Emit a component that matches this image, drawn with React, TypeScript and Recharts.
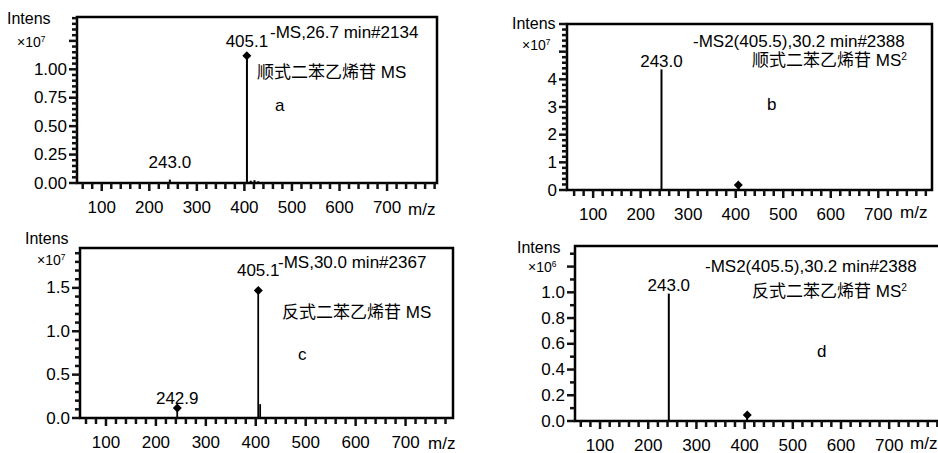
import React from 'react';
import { ComposedChart, XAxis, YAxis, Bar, Scatter, ReferenceArea, LabelList } from 'recharts';

const FONT = '"Liberation Sans", Arial, "Noto Sans CJK SC", sans-serif';

// ---------- data ----------
const xMajorTicks = [100, 200, 300, 400, 500, 600, 700];

// panel a: cis MS
const peaksA = [
  { mz: 243.0, intensity: 0.03, label: '243.0' },
  { mz: 405.1, intensity: 1.12, label: '405.1' },
  { mz: 413, intensity: 0.02 },
  { mz: 421, intensity: 0.025 },
  { mz: 429, intensity: 0.015 },
];
const markersA = [{ mz: 405.1, intensity: 1.12 }];
const yLabelsA = ['0.00', '0.25', '0.50', '0.75', '1.00'];
const yLabelValuesA = [0, 0.25, 0.5, 0.75, 1.0];

// panel b: cis MS2
const peaksB = [
  { mz: 243.0, intensity: 4.36, label: '243.0' },
  { mz: 405.5, intensity: 0.12 },
];
const markersB = [{ mz: 405.5, intensity: 0.18 }];
const yLabelsB = ['0', '1', '2', '3', '4'];
const yLabelValuesB = [0, 1, 2, 3, 4];

// panel c: trans MS
const peaksC = [
  { mz: 242.9, intensity: 0.115, label: '242.9' },
  { mz: 275, intensity: 0.012 },
  { mz: 405.1, intensity: 1.47, label: '405.1' },
  { mz: 409, intensity: 0.16 },
];
const markersC = [
  { mz: 242.9, intensity: 0.115 },
  { mz: 405.1, intensity: 1.47 },
];
const yLabelsC = ['0.0', '0.5', '1.0', '1.5'];
const yLabelValuesC = [0, 0.5, 1.0, 1.5];

// panel d: trans MS2
const peaksD = [
  { mz: 243.0, intensity: 0.99, label: '243.0' },
  { mz: 405.5, intensity: 0.03 },
];
const markersD = [{ mz: 405.5, intensity: 0.047 }];
const yLabelsD = ['0.0', '0.2', '0.4', '0.6', '0.8', '1.0'];
const yLabelValuesD = [0, 0.2, 0.4, 0.6, 0.8, 1.0];

// ---------- layout ----------
const panels = [
  {
    box: { L: 77, T: 17, R: 437, B: 183 },
    xDomain: [48, 805], yDomain: [0, 1.46], yStep: 0.05, yMajorStep: 0.25,
    peaks: peaksA, markers: markersA, yLabels: yLabelsA, yLabelValues: yLabelValuesA,
    labelDy: { '243.0': 17, '405.1': 14 },
    texts: [
      { t: 'Intens', x: 7, cy: 19, size: 16 },
      { t: '×10^7', x: 17, cy: 42, size: 14 },
      { t: '-MS,26.7 min#2134', x: 270, cy: 32, size: 17 },
      { t: '顺式二苯乙烯苷 MS', x: 257, cy: 72, size: 17 },
      { t: 'a', x: 275, cy: 105, size: 17 },
      { t: 'm/z', x: 408, cy: 209, size: 17 },
    ],
  },
  {
    box: { L: 567, T: 24, R: 932, B: 190 },
    xDomain: [45, 813], yDomain: [0, 6.0], yStep: 0.2, yMajorStep: 1,
    peaks: peaksB, markers: markersB, yLabels: yLabelsB, yLabelValues: yLabelValuesB,
    labelDy: { '243.0': 8 },
    texts: [
      { t: 'Intens', x: 512, cy: 24, size: 16 },
      { t: '×10^7', x: 522, cy: 45, size: 14 },
      { t: '-MS2(405.5),30.2 min#2388', x: 693, cy: 41, size: 17 },
      { t: '顺式二苯乙烯苷 MS^2', x: 752, cy: 60, size: 17 },
      { t: 'b', x: 767, cy: 104, size: 17 },
      { t: 'm/z', x: 900, cy: 212, size: 17 },
    ],
  },
  {
    box: { L: 80, T: 248, R: 453, B: 418 },
    xDomain: [48, 795], yDomain: [0, 1.96], yStep: 0.1, yMajorStep: 0.5,
    peaks: peaksC, markers: markersC, yLabels: yLabelsC, yLabelValues: yLabelValuesC,
    labelDy: { '242.9': 10, '405.1': 20 },
    texts: [
      { t: 'Intens', x: 25, cy: 239, size: 16 },
      { t: '×10^7', x: 37, cy: 260, size: 14 },
      { t: '-MS,30.0 min#2367', x: 278, cy: 262, size: 17 },
      { t: '反式二苯乙烯苷 MS', x: 282, cy: 312, size: 17 },
      { t: 'c', x: 298, cy: 354, size: 17 },
      { t: 'm/z', x: 428, cy: 443, size: 17 },
    ],
  },
  {
    box: { L: 575, T: 246, R: 947, B: 421 },
    xDomain: [48, 820], yDomain: [0, 1.36], yStep: 0.1, yMajorStep: 0.2,
    peaks: peaksD, markers: markersD, yLabels: yLabelsD, yLabelValues: yLabelValuesD,
    labelDy: { '243.0': 8 },
    texts: [
      { t: 'Intens', x: 517, cy: 248, size: 16 },
      { t: '×10^6', x: 528, cy: 267, size: 14 },
      { t: '-MS2(405.5),30.2 min#2388', x: 705, cy: 266, size: 17 },
      { t: '反式二苯乙烯苷 MS^2', x: 752, cy: 291, size: 17 },
      { t: 'd', x: 817, cy: 351, size: 17 },
      { t: 'm/z', x: 910, cy: 443, size: 17 },
    ],
  },
];

const PAD_L = 60, PAD_T = 10, PAD_R = 10, PAD_B = 40;
const TICK_COLOR = '#111';
const TICK_W = 2.5;

function renderRich(s: string) {
  const i = s.indexOf('^');
  if (i < 0) return s;
  return (
    <>
      {s.slice(0, i)}
      <span style={{ fontSize: '0.6em', position: 'relative', top: '-0.55em' }}>{s.slice(i + 1)}</span>
    </>
  );
}

const Diamond = (p: any) => {
  const { cx, cy } = p;
  const r = 4.5;
  return <path d={`M${cx},${cy - r}L${cx + r},${cy}L${cx},${cy + r}L${cx - r},${cy}Z`} fill="#000" />;
};

const xTick = (p: any) => {
  const { x, y, payload } = p;
  const v = payload.value;
  const major = xMajorTicks.includes(v);
  return (
    <g>
      <line x1={x} x2={x} y1={y} y2={y + (major ? 8 : 6)} stroke={TICK_COLOR} strokeWidth={TICK_W} />
      {major && (
        <text x={x} y={y + 24} textAnchor="middle" dominantBaseline="central" fontSize={17} fontFamily={FONT}>
          {v}
        </text>
      )}
    </g>
  );
};

const makeYTick = (yMajorStep: number, yLabelValues: number[], yLabels: string[]) => (p: any) => {
  const { x, y, payload } = p;
  const v = payload.value;
  const q = v / yMajorStep;
  const major = Math.abs(q - Math.round(q)) < 1e-6;
  const li = yLabelValues.findIndex((lv: number) => Math.abs(lv - v) < 1e-6);
  return (
    <g>
      <line x1={x - (major ? 8 : 5)} x2={x} y1={y} y2={y} stroke={TICK_COLOR} strokeWidth={TICK_W} />
      {li >= 0 && (
        <text x={x - 10} y={y} textAnchor="end" dominantBaseline="central" fontSize={17} fontFamily={FONT}>
          {yLabels[li]}
        </text>
      )}
    </g>
  );
};

const makeLabel = (labelDy: Record<string, number>) => (p: any) => {
  const { x, y, width, value } = p;
  if (value == null || value === '') return null;
  const dy = labelDy[value] ?? 12;
  return (
    <text x={x + width / 2} y={y - dy} textAnchor="middle" dominantBaseline="central" fontSize={17} fontFamily={FONT}>
      {value}
    </text>
  );
};

function Panel({ cfg }: { cfg: any }) {
  const { box, xDomain, yDomain, yStep, yMajorStep, peaks, markers, yLabels, yLabelValues, labelDy } = cfg;
  const W = box.R - box.L + PAD_L + PAD_R;
  const H = box.B - box.T + PAD_T + PAD_B;

  const xTicks: number[] = [];
  for (let v = 60; v <= 800; v += 20) if (v >= xDomain[0] && v <= xDomain[1]) xTicks.push(v);
  const yTicks: number[] = [];
  const n = Math.floor(yDomain[1] / yStep + 1e-6);
  for (let i = 0; i <= n; i++) yTicks.push(Math.round(i * yStep * 1000) / 1000);

  return (
    <div style={{ position: 'absolute', left: box.L - PAD_L, top: box.T - PAD_T }}>
      <ComposedChart width={W} height={H} data={peaks} margin={{ top: PAD_T, right: PAD_R, bottom: 0, left: 0 }}>
        <XAxis
          dataKey="mz"
          type="number"
          domain={xDomain}
          ticks={xTicks}
          interval={0}
          tickSize={0}
          tickMargin={0}
          tickLine={false}
          axisLine={{ stroke: '#000', strokeWidth: 2 }}
          height={PAD_B}
          tick={xTick}
        />
        <YAxis
          type="number"
          domain={yDomain}
          ticks={yTicks}
          interval={0}
          tickSize={0}
          tickMargin={0}
          tickLine={false}
          axisLine={{ stroke: '#000', strokeWidth: 2 }}
          width={PAD_L}
          tick={makeYTick(yMajorStep, yLabelValues, yLabels)}
        />
        <ReferenceArea x1={xDomain[0]} x2={xDomain[1]} y1={yDomain[0]} y2={yDomain[1]} fill="none" stroke="#000" strokeWidth={2.5} />
        <Bar dataKey="intensity" barSize={2} fill="#000" isAnimationActive={false}>
          <LabelList dataKey="label" content={makeLabel(labelDy)} />
        </Bar>
        <Scatter data={markers} dataKey="intensity" shape={Diamond} isAnimationActive={false} />
      </ComposedChart>
    </div>
  );
}

export default function App() {
  return (
    <div
      style={{
        position: 'absolute',
        left: 0,
        top: 0,
        width: 938,
        height: 453,
        overflow: 'hidden',
        fontFamily: FONT,
      }}
    >
      {panels.map((cfg, i) =>
        cfg.texts.map((t: any, j: number) => (
          <div
            key={`${i}-${j}`}
            style={{
              position: 'absolute',
              top: t.cy - t.size / 2,
              left: t.x,
              fontSize: t.size,
              lineHeight: 1,
              whiteSpace: 'nowrap',
            }}
          >
            {renderRich(t.t)}
          </div>
        ))
      )}
      {panels.map((cfg, i) => (
        <Panel key={i} cfg={cfg} />
      ))}
    </div>
  );
}
